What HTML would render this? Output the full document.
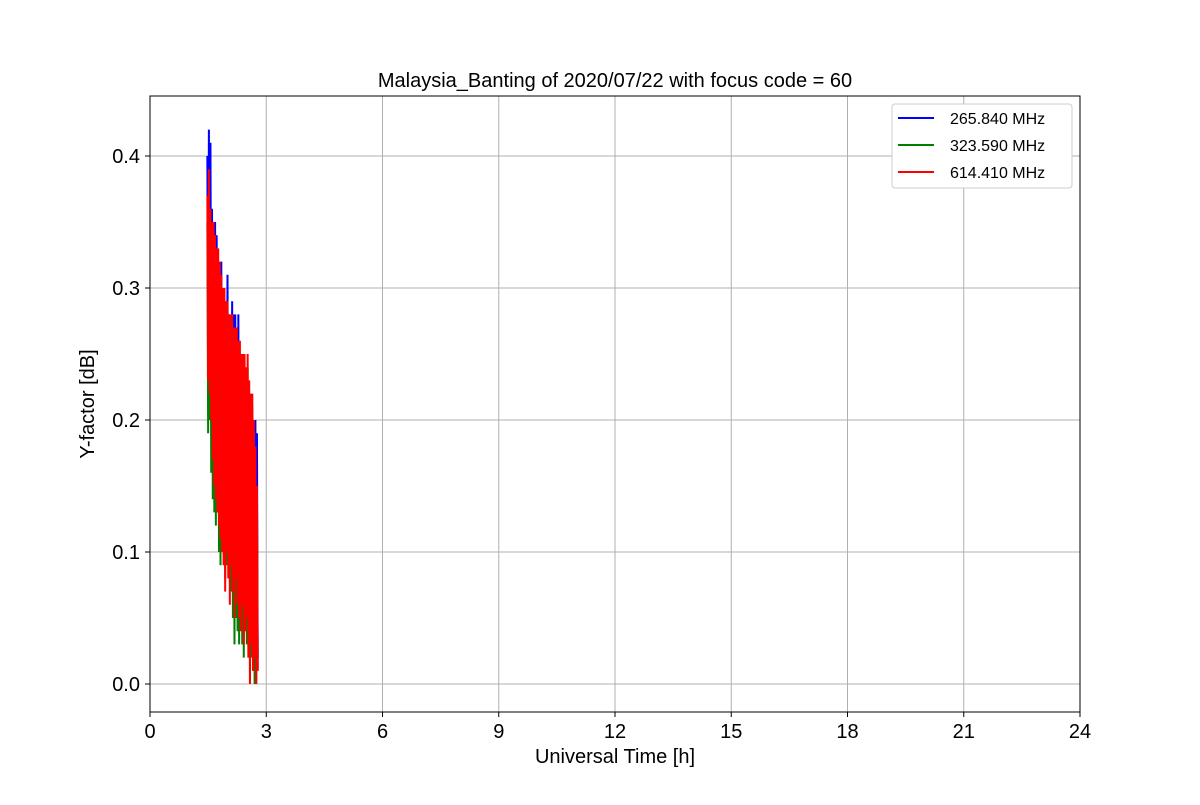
<!DOCTYPE html>
<html><head><meta charset="utf-8"><style>
body{margin:0;background:#fff}
svg{font-family:"Liberation Sans","DejaVu Sans",sans-serif}
</style></head><body>
<svg id="chart" width="1200" height="800" viewBox="0 0 1200 800">
<rect width="1200" height="800" fill="#fff"/>
<text x="615" y="87" font-size="20" text-anchor="middle">Malaysia_Banting of 2020/07/22 with focus code = 60</text>
<g id="grid"></g>
<g id="series"></g>
<rect x="150" y="96" width="930" height="616" fill="none" stroke="#000" stroke-width="1"/>
<g id="ticks"></g>
<text x="615" y="763" font-size="20" text-anchor="middle">Universal Time [h]</text>
<text transform="translate(94,404) rotate(-90)" font-size="20" text-anchor="middle">Y-factor [dB]</text>
<g>
<rect x="892" y="104" width="180" height="84" rx="3" fill="#fff" stroke="#ccc"/>
<g><line x1="898" y1="118" x2="934" y2="118" stroke="blue" stroke-width="2"/><text x="950" y="124" font-size="16">265.840 MHz</text></g>
<g><line x1="898" y1="145" x2="934" y2="145" stroke="green" stroke-width="2"/><text x="950" y="151" font-size="16">323.590 MHz</text></g>
<g><line x1="898" y1="172" x2="934" y2="172" stroke="red" stroke-width="2"/><text x="950" y="178" font-size="16">614.410 MHz</text></g>
</g>
</svg>
<script>
const times=[1.48,1.52,1.56,1.60,1.64,1.68,1.72,1.76,1.80,1.84,1.88,1.92,1.96,2.00,2.04,2.08,2.12,2.16,2.20,2.24,2.28,2.32,2.36,2.40,2.44,2.48,2.52,2.56,2.60,2.64,2.68,2.72,2.76];
const blueHi=[0.40,0.42,0.41,0.36,0.35,0.35,0.34,0.32,0.31,0.32,0.30,0.29,0.29,0.31,0.28,0.27,0.29,0.28,0.28,0.27,0.28,0.25,0.24,0.24,0.23,0.22,0.21,0.22,0.20,0.19,0.20,0.20,0.19];
const blueLo=[0.25,0.24,0.22,0.19,0.17,0.16,0.15,0.14,0.13,0.12,0.11,0.10,0.11,0.10,0.09,0.10,0.08,0.07,0.09,0.07,0.06,0.06,0.07,0.05,0.05,0.06,0.04,0.02,0.04,0.02,0.03,0.00,0.02];
const greenHi=[0.35,0.37,0.35,0.34,0.34,0.33,0.33,0.32,0.31,0.30,0.29,0.29,0.28,0.28,0.27,0.27,0.27,0.26,0.26,0.26,0.25,0.25,0.24,0.24,0.24,0.23,0.24,0.22,0.21,0.21,0.19,0.17,0.14];
const greenLo=[0.19,0.20,0.16,0.14,0.13,0.12,0.13,0.10,0.09,0.10,0.11,0.08,0.09,0.09,0.08,0.07,0.05,0.03,0.05,0.04,0.03,0.05,0.03,0.02,0.04,0.03,0.02,0.00,0.02,0.01,0.00,0.00,0.01];
const redHi=[0.37,0.39,0.36,0.35,0.35,0.34,0.33,0.33,0.32,0.31,0.30,0.30,0.29,0.29,0.28,0.28,0.28,0.27,0.27,0.27,0.26,0.26,0.25,0.25,0.25,0.24,0.25,0.23,0.22,0.22,0.20,0.18,0.15];
const redLo=[0.23,0.22,0.20,0.17,0.15,0.14,0.13,0.12,0.11,0.10,0.09,0.07,0.10,0.08,0.06,0.09,0.07,0.05,0.08,0.06,0.05,0.04,0.06,0.03,0.04,0.05,0.02,0.00,0.03,0.01,0.02,0.00,0.01];
const xTicks=[0,3,6,9,12,15,18,21,24];
const yTicks=[0.0,0.1,0.2,0.3,0.4];
const NS="http://www.w3.org/2000/svg";
function xs(t){return 150+t/24*930;}
function ys(v){return 684-v*1320;}
const grid=document.getElementById('grid'),ticks=document.getElementById('ticks'),ser=document.getElementById('series');
xTicks.forEach(t=>{
 const x=xs(t);
 if(t>0&&t<24){const g=document.createElementNS(NS,'line');g.setAttribute('x1',x);g.setAttribute('x2',x);g.setAttribute('y1',96);g.setAttribute('y2',712);g.setAttribute('stroke','#b0b0b0');
 
 
 grid.appendChild(g);}
 const k=document.createElementNS(NS,'line');k.setAttribute('x1',x);k.setAttribute('x2',x);k.setAttribute('y1',712);k.setAttribute('y2',717);k.setAttribute('stroke','#000');
 
 
 ticks.appendChild(k);
 const l=document.createElementNS(NS,'text');l.setAttribute('x',x);l.setAttribute('y',738);l.setAttribute('font-size','20');l.setAttribute('text-anchor','middle');l.textContent=t;
 
 
 ticks.appendChild(l);
});
yTicks.forEach(v=>{
 const y=ys(v);
 const g=document.createElementNS(NS,'line');g.setAttribute('x1',150);g.setAttribute('x2',1080);g.setAttribute('y1',y);g.setAttribute('y2',y);g.setAttribute('stroke','#b0b0b0');
 
 
 grid.appendChild(g);
 const k=document.createElementNS(NS,'line');k.setAttribute('x1',145);k.setAttribute('x2',150);k.setAttribute('y1',y);k.setAttribute('y2',y);k.setAttribute('stroke','#000');
 
 
 ticks.appendChild(k);
 const l=document.createElementNS(NS,'text');l.setAttribute('x',140);l.setAttribute('y',y+7);l.setAttribute('font-size','20');l.setAttribute('text-anchor','end');l.textContent=v.toFixed(1);
 
 
 ticks.appendChild(l);
});
function draw(hi,lo,color,name){
 const pts=[];
 times.forEach((t,i)=>{pts.push(xs(t)+','+ys(hi[i]));pts.push(xs(t+0.02)+','+ys(lo[i]));});
 const p=document.createElementNS(NS,'polyline');
 p.setAttribute('points',pts.join(' '));p.setAttribute('fill','none');p.setAttribute('stroke',color);p.setAttribute('stroke-width','2');
 
 
 ser.appendChild(p);
}
draw(blueHi,blueLo,'blue','series-265-mhz');
draw(greenHi,greenLo,'green','series-323-mhz');
draw(redHi,redLo,'red','series-614-mhz');
</script>
</body></html>
